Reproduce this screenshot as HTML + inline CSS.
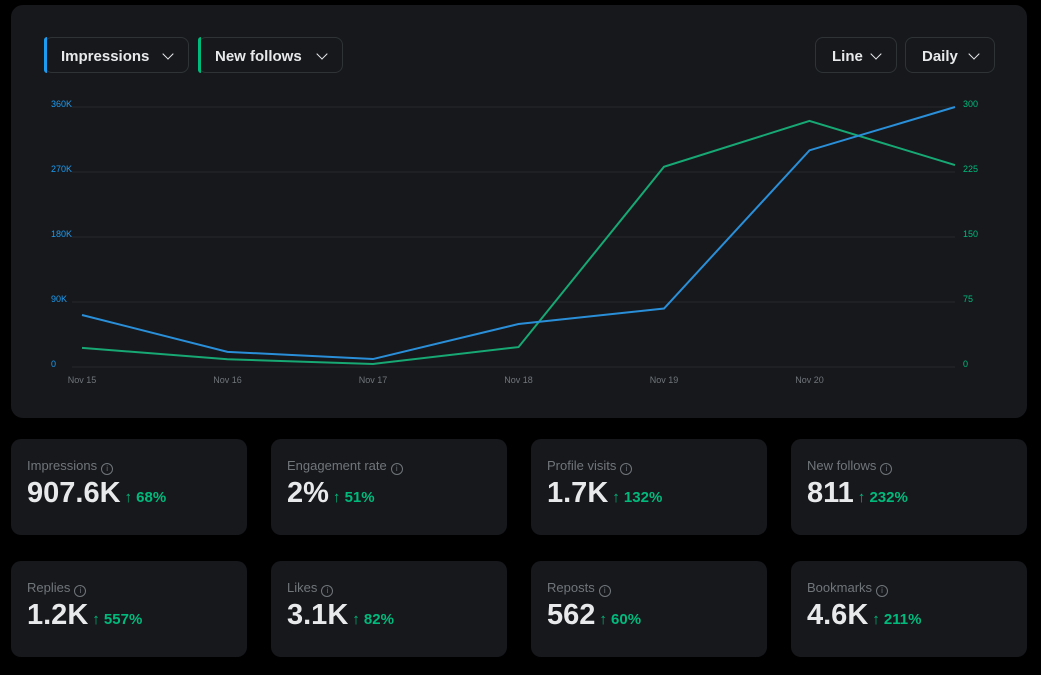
<!DOCTYPE html>
<html><head><meta charset="utf-8"><style>
body{margin:0;background:#000;width:1041px;height:675px;overflow:hidden;font-family:"Liberation Sans",sans-serif;position:relative}
.panel{position:absolute;left:11px;top:5px;width:1016px;height:413px;background:#16181c;border-radius:12px}
.btn{position:absolute;top:32px;height:36px;border:1px solid #2f3336;border-radius:8px;box-sizing:border-box;color:#e7e9ea;font-weight:bold;font-size:15px;line-height:38px;padding-left:16px}
.btn .bar{position:absolute;left:-1px;top:-1px;bottom:-1px;width:3px;border-radius:8px 0 0 8px}
.chev{position:absolute;right:16px;top:12px;width:7px;height:7px;border-right:1.5px solid #e7e9ea;border-bottom:1.5px solid #e7e9ea;transform:rotate(45deg)}
.card{position:absolute;width:236px;height:96px;background:#16181c;border-radius:10px}
.lab{position:absolute;left:16px;top:19px;font-size:13px;color:#71767b}
.lab i{display:inline-block;width:10px;height:10px;border:1px solid #71767b;border-radius:50%;font-size:8px;line-height:10px;text-align:center;font-style:normal;margin-left:4px;vertical-align:-1px}
.val{position:absolute;left:16px;top:38px;font-size:29px;font-weight:bold;color:#e7e9ea}
.val span{font-size:15px;color:#00ba7c;font-weight:bold;margin-left:4px}
</style></head><body>
<div class="panel">
<div class="btn" style="left:33px;width:145px"><div class="bar" style="background:#1d9bf0"></div>Impressions<div class="chev"></div></div>
<div class="btn" style="left:187px;width:145px"><div class="bar" style="background:#00ba7c"></div>New follows<div class="chev"></div></div>
<div class="btn" style="left:804px;width:82px">Line<div class="chev"></div></div>
<div class="btn" style="left:894px;width:90px">Daily<div class="chev"></div></div>
</div>
<svg id="chart" width="1041" height="420" style="position:absolute;left:0;top:0"></svg>
<script>
const categories=["Nov 15","Nov 16","Nov 17","Nov 18","Nov 19","Nov 20",""];
const impressions=[72000,21000,11000,59500,81000,300000,360000];
const newFollows=[22,9,3.5,23,231,284,233];
const leftTicks=["0","90K","180K","270K","360K"];
const rightTicks=["0","75","150","225","300"];
const leftMax=360000,rightMax=300;
const svg=document.getElementById('chart');const NS='http://www.w3.org/2000/svg';
const x0=82,x1=955,y0=367,y1=107;
const xs=i=>x0+(x1-x0)*i/(categories.length-1);
const yl=v=>y0-(y0-y1)*v/leftMax, yr=v=>y0-(y0-y1)*v/rightMax;
function mk(t,a){const e=document.createElementNS(NS,t);for(const k in a)e.setAttribute(k,a[k]);svg.appendChild(e);return e;}
leftTicks.forEach((t,i)=>{const y=y0-(y0-y1)*i/(leftTicks.length-1);
const g=mk('line',{x1:72,x2:x1,y1:y,y2:y,stroke:'#25282c','stroke-width':1});

const a=mk('text',{x:51,y:y,fill:'#1d9bf0','font-size':9,'font-family':'Liberation Sans'});a.textContent=t;

const b=mk('text',{x:963,y:y,fill:'#00ba7c','font-size':9,'font-family':'Liberation Sans'});b.textContent=rightTicks[i];
});
categories.forEach((c,i)=>{if(!c)return;const t=mk('text',{x:xs(i),y:383,fill:'#71767b','font-size':9,'text-anchor':'middle','font-family':'Liberation Sans'});t.textContent=c;
});
const p1=mk('polyline',{points:newFollows.map((v,i)=>xs(i)+','+yr(v)).join(' '),fill:'none',stroke:'#17a874','stroke-width':2});

const p2=mk('polyline',{points:impressions.map((v,i)=>xs(i)+','+yl(v)).join(' '),fill:'none',stroke:'#2a8fd8','stroke-width':2});

</script>
<div class="card" style="left:11px;top:439px"><div class="lab">Impressions<i>i</i></div><div class="val">907.6K<span>↑ 68%</span></div></div>
<div class="card" style="left:271px;top:439px"><div class="lab">Engagement rate<i>i</i></div><div class="val">2%<span>↑ 51%</span></div></div>
<div class="card" style="left:531px;top:439px"><div class="lab">Profile visits<i>i</i></div><div class="val">1.7K<span>↑ 132%</span></div></div>
<div class="card" style="left:791px;top:439px"><div class="lab">New follows<i>i</i></div><div class="val">811<span>↑ 232%</span></div></div>
<div class="card" style="left:11px;top:561px"><div class="lab">Replies<i>i</i></div><div class="val">1.2K<span>↑ 557%</span></div></div>
<div class="card" style="left:271px;top:561px"><div class="lab">Likes<i>i</i></div><div class="val">3.1K<span>↑ 82%</span></div></div>
<div class="card" style="left:531px;top:561px"><div class="lab">Reposts<i>i</i></div><div class="val">562<span>↑ 60%</span></div></div>
<div class="card" style="left:791px;top:561px"><div class="lab">Bookmarks<i>i</i></div><div class="val">4.6K<span>↑ 211%</span></div></div>
</body></html>
